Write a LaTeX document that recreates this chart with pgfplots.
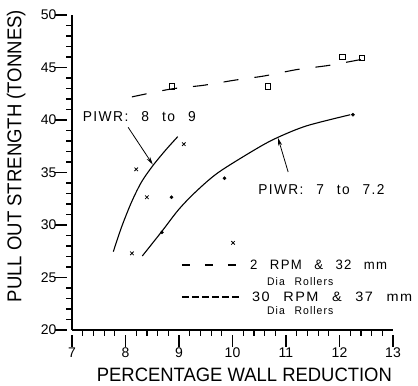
\documentclass[border=0pt]{standalone}
\usepackage{fontspec}
\setmainfont{Liberation Sans}
\newfontfamily\pltfont{Liberation Sans}[LetterSpace=10, WordSpace=2.5]
\usepackage{pgfplots}
\pgfplotsset{compat=1.18}
\usetikzlibrary{arrows.meta}
\newcommand{\plt}[3]{\resizebox{#1}{#2}{\pltfont\fontsize{12}{12}\selectfont #3}}
\begin{document}
\begin{tikzpicture}
\begin{axis}[
  scale only axis, width=321pt, height=315pt,
  xmin=7, xmax=13, ymin=20, ymax=50,
  axis x line*=bottom, axis y line*=left,
  xtick pos=bottom, ytick pos=left,
  axis line style={-, line width=1.5pt},
  xtick={7,...,13}, ytick={20,25,...,50},
  minor x tick num=4, minor y tick num=4,
  tick align=outside,
  major tick length=12pt, minor tick length=5.5pt,
  tick style={line width=1.2pt, black},
  every major x tick/.append style={yshift=-5pt},
  every major y tick/.append style={xshift=-5pt},
  /pgf/number format/assume math mode=true,
  ticklabel style={font=\fontsize{14}{14}\selectfont},
  yticklabel style={anchor=east, xshift=0pt},
  xticklabel style={anchor=north, yshift=-2pt},
  xlabel={\resizebox{295pt}{13.5pt}{PERCENTAGE WALL REDUCTION}},
  ylabel={\resizebox{292pt}{14.5pt}{PULL OUT STRENGTH (TONNES)}},
  every axis x label/.style={at={(axis description cs:0.537,-0.143)}, anchor=center},
  every axis y label/.style={at={(axis description cs:-0.174,0.552)}, anchor=center, rotate=90},
  clip=false,
]
\coordinate (bl) at (rel axis cs:0,0);
\coordinate (tr) at (rel axis cs:1,1);

\addplot[black, line width=1.1pt, dash pattern=on 8pt off 15pt] coordinates {(9.056,26.19) (10.08,26.19)};
\addplot[black, line width=1.1pt, dash pattern=on 7pt off 3pt] coordinates {(9.056,23.14) (10.14,23.14)};

\addplot[black, line width=1.1pt, smooth, dash pattern=on 15pt off 16pt] coordinates {
  (8.12,42.2) (8.85,42.95) (9.45,43.3) (10.05,43.8) (10.6,44.2) (11.2,44.8) (11.8,45.2) (12.44,45.8)};
\addplot[only marks, mark=square, mark size=2.8pt, black, thick] coordinates {
  (8.87,43.2) (10.66,43.2) (12.05,46.0) (12.42,45.9)};
\addplot[black, line width=1.1pt, smooth] coordinates {
  (7.772,27.46) (7.929,29.84) (8.116,32.22) (8.303,34.13) (8.52,35.71) (8.763,37.21) (8.976,38.41)};
\addplot[black, line width=1.1pt, smooth] coordinates {
  (8.314,27.05) (8.676,29.37) (8.987,31.43) (9.30,33.1) (9.735,35.0) (10.46,37.3) (10.85,38.35) (11.39,39.45) (12.2,40.5)};
\addplot[only marks, mark=x, mark size=2.5pt, black, thick] coordinates {
  (8.12,27.3) (8.20,35.3) (8.40,32.64) (9.09,37.7) (10.01,28.3)};
\addplot[only marks, mark=*, mark size=1.6pt, black] coordinates {
  (8.68,29.3) (8.86,32.64) (9.85,34.45) (12.25,40.5)};

\node[anchor=west, inner sep=0pt] at (axis cs:10.327,26.19) {\plt{137pt}{9.5pt}{2 RPM \& 32 mm}};
\node[anchor=west, inner sep=0pt] at (axis cs:10.645,24.57) {\plt{66pt}{8pt}{Dia Rollers}};
\node[anchor=west, inner sep=0pt] at (axis cs:10.364,23.14) {\plt{160pt}{9.5pt}{30 RPM \& 37 mm}};
\node[anchor=west, inner sep=0pt] at (axis cs:10.645,21.81) {\plt{66pt}{8pt}{Dia Rollers}};

\node[anchor=west, inner sep=0pt] at (axis cs:7.2,40.3) {\plt{113pt}{10pt}{PIWR: 8 to 9}};
\draw[-{Stealth[length=8pt,width=4pt]}, line width=0.8pt] (axis cs:8.05,39.3) -- (axis cs:8.51,35.75);
\node[anchor=west, inner sep=0pt] at (axis cs:10.48,33.33) {\plt{126pt}{10pt}{PIWR: 7 to 7.2}};
\draw[-{Stealth[length=8pt,width=4pt]}, line width=0.8pt] (axis cs:11.04,35.05) -- (axis cs:10.85,38.3);
\end{axis}
\pgfresetboundingbox
\path[use as bounding box] ([shift={(-72pt,-56pt)}]bl) rectangle ([shift={(25pt,15pt)}]tr);
\end{tikzpicture}
\end{document}
